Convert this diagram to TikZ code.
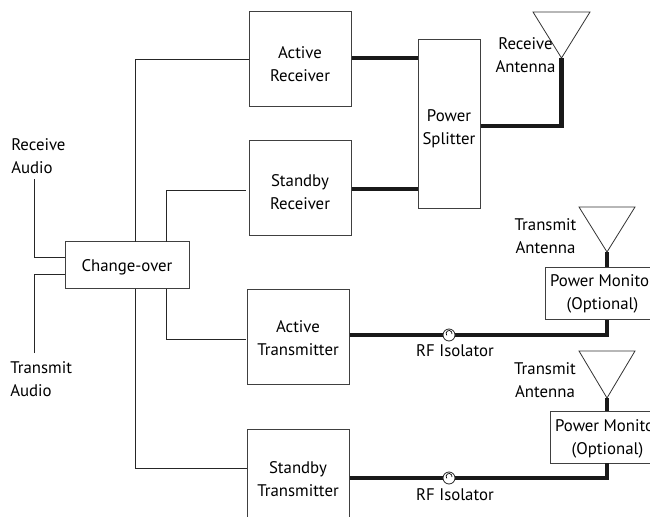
\documentclass[tikz,border=0pt]{standalone}
\usepackage{fontspec}
\setmainfont{PT Sans}
\newcommand{\dn}[1]{\rule{0pt}{#1pt}}
\begin{document}
\begin{tikzpicture}[x=0.75pt,y=-0.75pt,
  box/.style={draw=black!75,line width=0.75pt,inner sep=0pt,fill=white,align=center,font=\fontsize{12.6pt}{17.2pt}\selectfont},
  lab/.style={inner sep=0pt,align=center,font=\fontsize{12.6pt}{17.2pt}\selectfont},
  labl/.style={inner sep=0pt,align=left,font=\fontsize{12.6pt}{17.2pt}\selectfont},
  thin line/.style={draw=black!85,line width=0.7pt},
  thick line/.style={draw=black!90,line width=3.3pt},
  ant/.style={draw=black!80,line width=0.6pt,fill=white},
  iso/.style={circle,draw=black!85,fill=white,line width=0.6pt,minimum size=9pt,inner sep=0pt}]
\useasboundingbox (0,0) rectangle (650,517);
\clip (0,0) rectangle (650,517);
% boxes
\node[box,minimum width=124*0.75pt,minimum height=47*0.75pt] (co) at (127,265) {\dn{12.4}Change-over};
\node[box,minimum width=102*0.75pt,minimum height=95*0.75pt] (ar) at (300,59.5) {\dn{16.5}Active\\Receiver};
\node[box,minimum width=102*0.75pt,minimum height=95*0.75pt] (sr) at (300,188) {\dn{15.4}Standby\\Receiver};
\node[box,minimum width=102*0.75pt,minimum height=95*0.75pt] (at) at (298,337) {\dn{11.2}Active\\Transmitter};
\node[box,minimum width=102*0.75pt,minimum height=95*0.75pt] (st) at (298,477) {\dn{12.4}Standby\\Transmitter};
\node[box,minimum width=62*0.75pt,minimum height=168*0.75pt] (ps) at (449,124) {\dn{16.3}Power\\Splitter};
\node[box,minimum width=114*0.75pt,minimum height=52*0.75pt,anchor=west] (pm1) at (545,293.5) {Power Monitor\\(Optional)};
\node[box,minimum width=114*0.75pt,minimum height=52*0.75pt,anchor=west] (pm2) at (550,437) {\dn{11.8}Power Monitor\\(Optional)};
% antennas
\coordinate (a0) at (561.5,58);
\coordinate (a1) at (607,252);
\coordinate (a2) at (607,398);
\draw[ant] (533,12) -- (590,12) -- (a0) -- cycle;
\draw[ant] (579,207) -- (635,207) -- (a1) -- cycle;
\draw[ant] (579,351) -- (635,351) -- (a2) -- cycle;
% thin connectors
\coordinate (ra) at (34,179);
\coordinate (ta) at (34,353);
\draw[thin line] (ra) |- (co.west |- 0,257);
\draw[thin line] (ta) |- (co.west |- 0,274);
\draw[thin line] (135,241.5) |- (ar.west);
\draw[thin line] (135,288.5) |- (st.west |- 0,468);
\draw[thin line] (166.5,241.5) |- (246,190.5);
\draw[thin line] (166.5,288.5) |- (246,339);
% thick connectors
\draw[thick line] (ar.east |- 0,58) -- (ps.west |- 0,58);
\draw[thick line] (sr.east |- 0,189) -- (ps.west |- 0,189);
\draw[thick line,line join=miter] (ps.east |- 0,126) -| (a0);
\draw[thick line] (a1) -- (a1 |- pm1.north);
\draw[thick line] (a2) -- (a2 |- pm2.north);
\draw[thick line,line join=miter] (at.east |- 0,335) -- (607,335) -- (607,319.5);
\draw[thick line,line join=miter] (st.east |- 0,478) -- (607,478) -- (607,463);
\node[iso] (i1) at (449,335) {};
\node[iso] (i2) at (449,478) {};
\draw[line width=0.5pt] (452,334) arc (10:-220:3);
\draw[line width=0.5pt] (452,477) arc (10:-220:3);
% labels
\node[labl,anchor=west] at (11,156) {Receive\\Audio};
\node[labl,anchor=west] at (10,379) {Transmit\\Audio};
\node[lab,anchor=center] at (525.5,55) {Receive\\Antenna};
\node[lab,anchor=center] at (545.5,236) {Transmit\\Antenna};
\node[lab,anchor=center] at (545,380) {Transmit\\Antenna};
\node[lab] at (455,351) {RF Isolator};
\node[lab] at (455,495) {RF Isolator};
\end{tikzpicture}
\end{document}
